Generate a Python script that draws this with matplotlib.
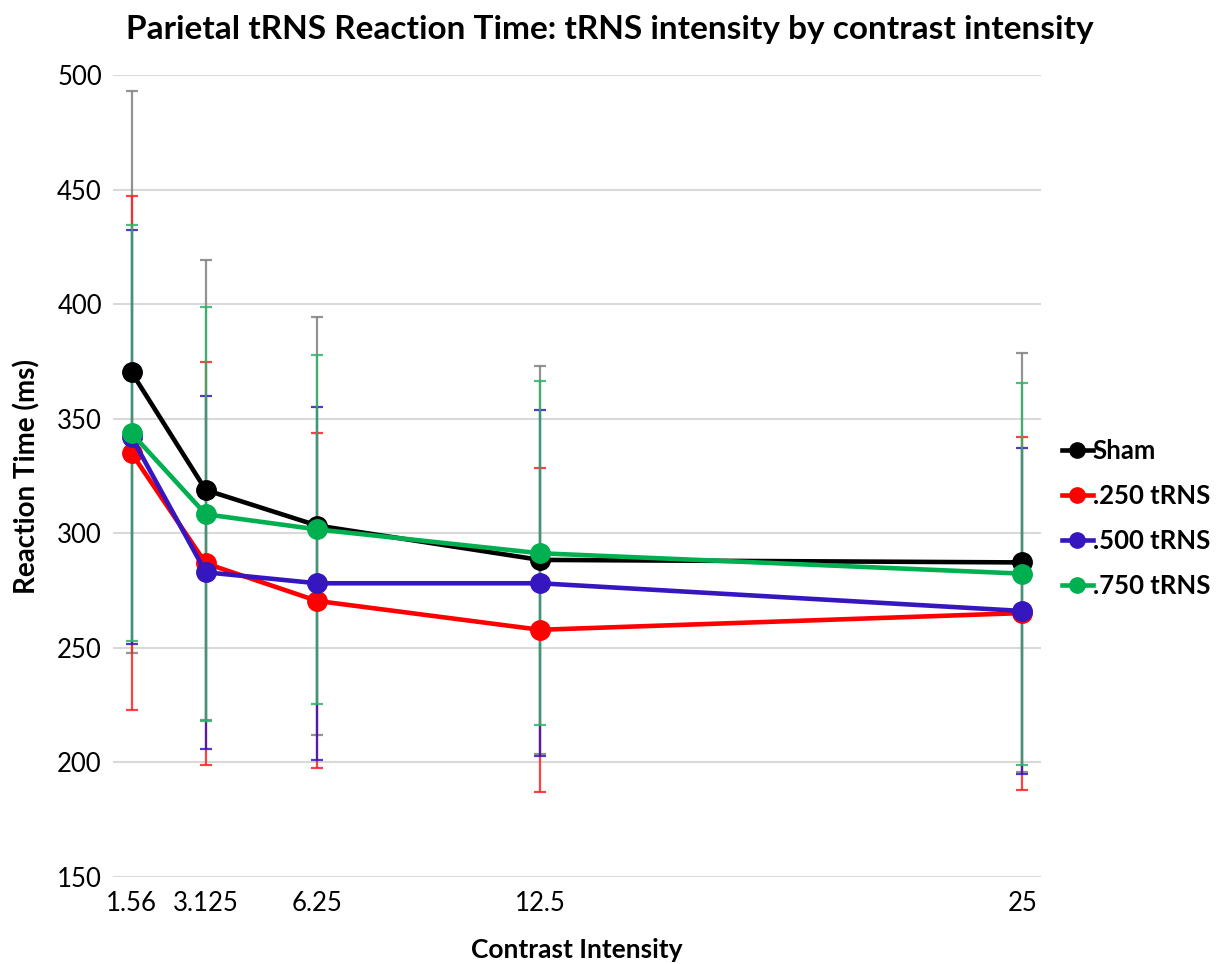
import numpy as np
import matplotlib
matplotlib.use("Agg")
import matplotlib.pyplot as plt

plt.rcParams['font.family'] = ['Lato', 'DejaVu Sans']

# contrast levels (the axis places them on whole-number slots, like a date axis)
contrast = [1.56, 3.125, 6.25, 12.5, 25]
contrast_labels = ['1.56', '3.125', '6.25', '12.5', '25']

# mean reaction time (ms) per condition
sham = [370.3, 318.9, 303.4, 288.4, 287.3]
trns_250 = [335.0, 286.9, 270.5, 257.9, 265.2]
trns_500 = [342.0, 283.0, 278.2, 278.2, 266.1]
trns_750 = [343.7, 308.3, 301.7, 291.3, 282.4]

# error bar sizes (ms)
sham_err = [122.6, 100.2, 91.2, 84.5, 91.5]
trns_250_err = [112.3, 87.8, 73.1, 70.7, 77.0]
trns_500_err = [90.5, 77.0, 77.1, 75.5, 71.0]
trns_750_err = [90.8, 90.3, 76.0, 75.0, 83.4]

names = ['Sham', '.250 tRNS', '.500 tRNS', '.750 tRNS']
colors = ['#000000', '#ff0000', '#3516bf', '#00b050']
err_colors = ['#808080', '#ff2020', '#3516bf', '#2fb466']

x = np.floor(contrast)

fig = plt.figure(figsize=(12.2, 9.64), dpi=100)
ax = fig.add_axes([0.0926, 0.0902, 0.7607, 0.832])

series = [sham, trns_250, trns_500, trns_750]
errs = [sham_err, trns_250_err, trns_500_err, trns_750_err]

# error bars first, then the lines on top
for vals, e, ec in zip(series, errs, err_colors):
    ax.errorbar(x, vals, yerr=e, fmt='none', ecolor=ec, elinewidth=1.6,
                capsize=4, capthick=1.6, alpha=0.85, zorder=2)

for vals, name, c in zip(series, names, colors):
    ax.plot(x, vals, color=c, lw=3.3, marker='o', markersize=14,
            label=name, zorder=3)

ax.set_xlim(0.5, 25.5)
ax.set_ylim(150, 500)
ax.set_yticks(np.arange(150, 501, 50))
ax.set_xticks(x)
ax.set_xticklabels(contrast_labels)
ax.tick_params(axis='both', length=0, labelsize=18.5)
ax.tick_params(axis='x', pad=10)
ax.tick_params(axis='y', pad=8)

ax.grid(axis='y', color='#d9d9d9', lw=1.5)
ax.set_axisbelow(True)
for s in ax.spines.values():
    s.set_visible(False)

fig.suptitle('Parietal tRNS Reaction Time: tRNS intensity by contrast intensity',
             x=0.5, y=0.984, fontsize=24, fontweight='bold')
ax.set_xlabel('Contrast Intensity', fontsize=19, fontweight='bold', labelpad=16)
ax.set_ylabel('Reaction Time (ms)', fontsize=20, fontweight='bold', labelpad=12)

leg = fig.legend(loc='center left', bbox_to_anchor=(0.862, 0.462), frameon=False,
                 fontsize=18.5, handlelength=1.2, handletextpad=0.0,
                 labelspacing=0.82, borderaxespad=0.0)
for t in leg.get_texts():
    t.set_fontweight('bold')
for h in leg.legend_handles:
    h.set_markersize(11)

fig.savefig('out.png', dpi=100, facecolor='white')
